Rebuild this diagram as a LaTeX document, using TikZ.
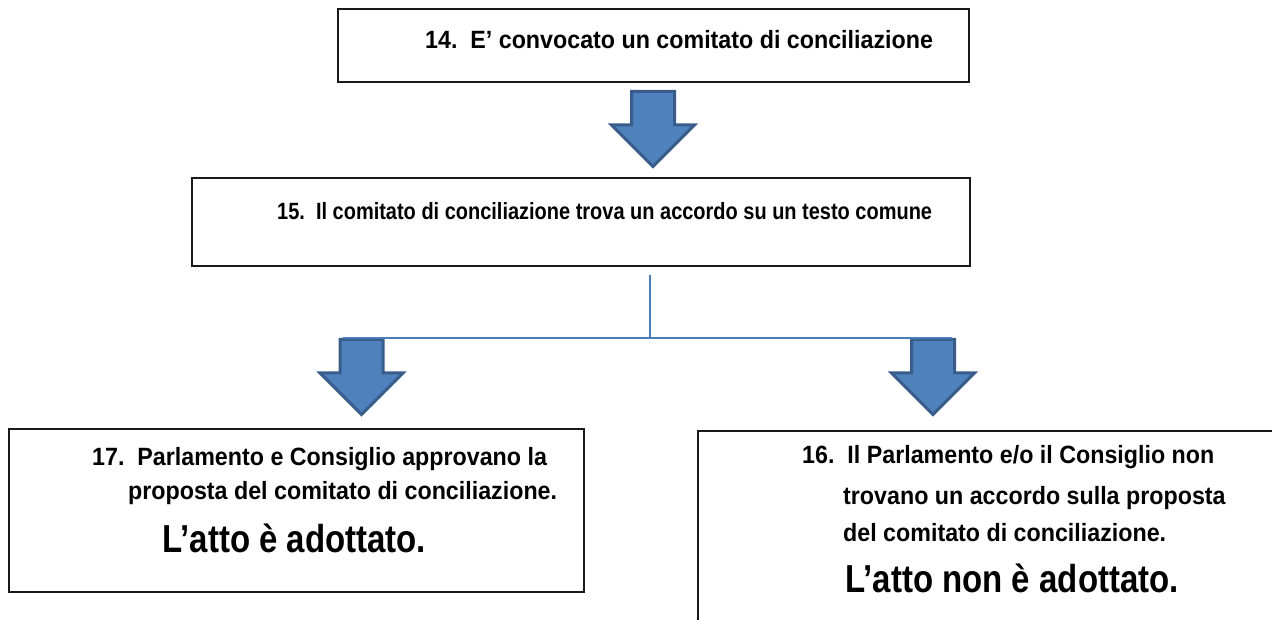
\documentclass[tikz,border=0pt]{standalone}
\usepackage{fontspec}
\setmainfont{Liberation Sans}
\newfontfamily\txtfont{Liberation Sans}[FakeStretch=0.93]
\newfontfamily\midfont{Liberation Sans}[FakeStretch=0.85]
\newfontfamily\bigfont{Liberation Sans}[FakeStretch=0.846]
\usetikzlibrary{shapes.arrows,calc}
\definecolor{arrfill}{HTML}{4F81BD}
\definecolor{arrdraw}{HTML}{385D8A}
\definecolor{conncol}{HTML}{4A7EBB}
\tikzset{
  boxnode/.style={draw=black!90, line width=1.6pt, fill=none, inner sep=0pt, anchor=north west},
  txt/.style={inner sep=0pt, anchor=base west, font=\txtfont\bfseries\fontsize{25}{29}\selectfont},
  midtxt/.style={inner sep=0pt, anchor=base west, font=\midfont\bfseries\fontsize{23.5}{27}\selectfont},
  bigtxt/.style={inner sep=0pt, anchor=base west, font=\bigfont\bfseries\fontsize{39}{44}\selectfont},
  barrow/.style={single arrow, shape border rotate=270, draw=arrdraw, fill=arrfill,
    line width=3pt, minimum width=80pt, minimum height=75pt,
    single arrow head extend=20pt, single arrow tip angle=90, inner sep=20pt, anchor=tail},
  conn/.style={draw=conncol, line width=1.8pt}
}
\begin{document}
\begin{tikzpicture}[x=1pt,y=-1pt]
\useasboundingbox (0,0) rectangle (1272,620);
\clip (0,0) rectangle (1272,620);
\fill[white] (0,0) rectangle (1272,620);
% boxes
\node[boxnode, minimum width=631pt, minimum height=73pt] (b14) at (337,8) {};
\node[boxnode, minimum width=778pt, minimum height=88pt] (b15) at (191,177) {};
\node[boxnode, minimum width=575pt, minimum height=163pt] (b17) at (8,428) {};
\node[boxnode, minimum width=620pt, minimum height=220pt] (b16) at (697,430) {};
% texts
\node[txt] (t14) at (425,49) {14.\ \ E’ convocato un comitato di conciliazione};
\node[midtxt] (t15) at (277,220) {15.\ \ Il comitato di conciliazione trova un accordo su un testo comune};
\node[txt] (t17a) at (92,465) {17.\ \ Parlamento e Consiglio approvano la};
\node[txt] (t17b) at (128,499) {proposta del comitato di conciliazione.};
\node[bigtxt] (t17c) at (162,552) {L’atto è adottato.};
\node[txt] (t16a) at (802,463) {16.\ \ Il Parlamento e/o il Consiglio non};
\node[txt] (t16b) at (843,504) {trovano un accordo sulla proposta};
\node[txt] (t16c) at (843,541) {del comitato di conciliazione.};
\node[bigtxt] (t16d) at (845,592) {L’atto non è adottato.};
% arrows
\node[barrow] (a1) at (653,90) {};
\node[barrow] (aL) at (361.5,338) {};
\node[barrow] (aR) at (933,338) {};
% connectors
\coordinate (stem) at (650,275);
\draw[conn] (stem) -- (stem |- aL.tail);
\draw[conn] ($(aL.tail)+(-19,0)$) -- ($(aR.tail)+(19,0)$);
\end{tikzpicture}
\end{document}
